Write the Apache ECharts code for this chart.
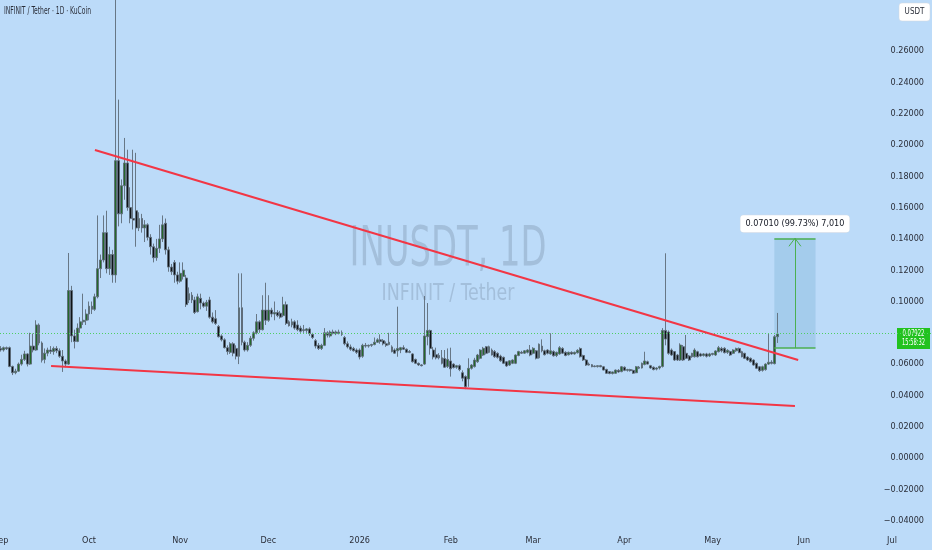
<!DOCTYPE html>
<html>
<head>
<meta charset="utf-8">
<script src="https://cdn.jsdelivr.net/npm/echarts@6/dist/echarts.min.js"></script>
<style>
html, body { margin: 0; padding: 0; background: #bcdbf9; }
#chart { width: 932px; height: 550px; }
</style>
</head>
<body>
<div id="chart"></div>
<script>
var myChart = echarts.init(document.getElementById('chart'));

var DAY = 86400000;
var startTime = Date.UTC(2025, 8, 1);   // 第一根K线 2025-09-01
var monthNames = ['Jan', 'Feb', 'Mar', 'Apr', 'May', 'Jun', 'Jul', 'Aug', 'Sep', 'Oct', 'Nov', 'Dec'];

// 日K 数据
var opens = [
	.0700,.0690,.0705,.0705,.0585,.0545,.0555,.0600,.0630,.0665,
	.0600,.0715,.0690,.0850,.0735,.0630,.0670,.0690,.0680,.0700,
	.0685,.0650,.0620,.0600,.1070,.0780,.0745,.0830,.0870,.0880,
	.0920,.0970,.0950,.1030,.1210,.1265,.1440,.1210,.1300,.1170,
	.1900,.1560,.1740,.1885,.1600,.1530,.1580,.1470,.1530,.1470,
	.1490,.1410,.1350,.1280,.1340,.1400,.1500,.1330,.1220,.1250,
	.1170,.1130,.1160,.1150,.1010,.1040,.1010,.0935,.1020,.0990,
	.0970,.1010,.0900,.0890,.0840,.0780,.0755,.0705,.0675,.0730,
	.0700,.0650,.0960,.0740,.0690,.0720,.0765,.0800,.0870,.0820,
	.0945,.0880,.0945,.0920,.0930,.0925,.0910,.0980,.0870,.0850,
	.0870,.0850,.0830,.0820,.0815,.0825,.0790,.0750,.0720,.0700,
	.0720,.0800,.0780,.0805,.0795,.0805,.0800,.0770,.0730,.0710,
	.0700,.0690,.0690,.0650,.0720,.0715,.0720,.0725,.0740,.0755,
	.0750,.0730,.0725,.0710,.0690,.0685,.0690,.0705,.0695,.0680,
	.0665,.0630,.0605,.0595,.0600,.0775,.0815,.0690,.0660,.0655,
	.0640,.0635,.0585,.0620,.0600,.0580,.0590,.0545,.0520,.0505,
	.0573,.0584,.0615,.0637,.0658,.0711,.0675,.0690,.0680,.0669,
	.0651,.0643,.0615,.0594,.0605,.0605,.0655,.0675,.0670,.0675,
	.0690,.0669,.0685,.0640,.0715,.0685,.0690,.0665,.0680,.0655,
	.0665,.0700,.0675,.0660,.0675,.0665,.0672,.0700,.0655,.0626,
	.0600,.0596,.0588,.0584,.0590,.0583,.0566,.0552,.0540,.0541,
	.0560,.0552,.0580,.0560,.0565,.0560,.0545,.0580,.0575,.0598,
	.0615,.0590,.0580,.0568,.0575,.0585,.0815,.0805,.0690,.0680,
	.0658,.0626,.0711,.0669,.0652,.0647,.0647,.0679,.0665,.0655,
	.0665,.0652,.0662,.0658,.0679,.0700,.0701,.0675,.0680,.0669,
	.0685,.0700,.0679,.0669,.0645,.0637,.0626,.0605,.0583,.0560,
	.0565,.0600,.0612,.0603,.0775
];
var highs = [
	.0715,.0712,.0712,.0712,.0590,.0570,.0610,.0660,.0685,.0670,
	.0800,.0795,.0880,.0860,.0745,.0700,.0705,.0715,.0712,.0715,
	.0700,.0690,.0630,.1310,.1100,.0820,.0860,.0900,.1050,.0950,
	.1000,.1000,.1050,.1550,.1300,.1550,.1580,.1350,.1330,.3000,
	.2290,.1780,.2045,.1970,.1730,.1970,.1950,.1570,.1560,.1520,
	.1500,.1430,.1370,.1400,.1490,.1550,.1530,.1350,.1240,.1265,
	.1190,.1250,.1250,.1170,.1090,.1060,.1030,.1050,.1050,.1000,
	.1010,.1030,.0930,.0945,.0850,.0790,.0765,.0720,.0740,.0740,
	.0720,.1180,.1180,.0750,.0740,.0780,.0810,.0920,.0880,.1040,
	.1120,.1040,.0960,.1000,.0945,.0940,.1030,.1000,.0880,.0890,
	.0880,.0880,.0845,.0850,.0830,.0835,.0800,.0760,.0735,.0730,
	.0830,.0810,.0815,.0820,.0815,.0820,.0815,.0780,.0745,.0725,
	.0710,.0700,.0700,.0730,.0735,.0725,.0730,.0770,.0765,.0790,
	.0760,.0745,.0800,.0720,.0700,.0967,.0710,.0720,.0700,.0690,
	.0670,.0635,.0610,.0600,.1035,.0990,.0820,.0710,.0705,.0670,
	.0690,.0690,.0700,.0705,.0605,.0595,.0598,.0560,.0528,.0637,
	.0600,.0640,.0665,.0695,.0710,.0715,.0718,.0700,.0690,.0675,
	.0660,.0648,.0620,.0625,.0630,.0662,.0685,.0685,.0690,.0695,
	.0722,.0708,.0690,.0732,.0758,.0692,.0695,.0797,.0688,.0680,
	.0715,.0708,.0682,.0680,.0682,.0680,.0695,.0707,.0660,.0632,
	.0610,.0600,.0592,.0592,.0595,.0588,.0570,.0556,.0552,.0565,
	.0568,.0588,.0585,.0570,.0570,.0565,.0588,.0588,.0610,.0679,
	.0622,.0595,.0585,.0580,.0590,.0830,.1308,.0815,.0700,.0682,
	.0665,.0733,.0722,.0786,.0658,.0672,.0701,.0685,.0672,.0670,
	.0672,.0672,.0672,.0688,.0716,.0710,.0708,.0695,.0686,.0695,
	.0705,.0706,.0685,.0672,.0650,.0642,.0630,.0610,.0588,.0590,
	.0605,.0797,.0625,.0786,.0927
];
var lows = [
	.0680,.0680,.0690,.0580,.0530,.0535,.0550,.0590,.0620,.0585,
	.0595,.0675,.0685,.0720,.0610,.0605,.0650,.0665,.0660,.0670,
	.0640,.0550,.0580,.0595,.0740,.0700,.0740,.0800,.0850,.0850,
	.0880,.0920,.0940,.1020,.1150,.1250,.1180,.1170,.1120,.1120,
	.1480,.1500,.1650,.1580,.1500,.1460,.1350,.1450,.1440,.1380,
	.1390,.1300,.1250,.1260,.1310,.1380,.1300,.1190,.1170,.1120,
	.1110,.1120,.1140,.0965,.0990,.0990,.0920,.0930,.0950,.0960,
	.0940,.0890,.0860,.0850,.0770,.0745,.0700,.0660,.0665,.0650,
	.0630,.0600,.0720,.0680,.0680,.0710,.0750,.0790,.0800,.0815,
	.0850,.0870,.0900,.0880,.0900,.0890,.0900,.0850,.0840,.0835,
	.0820,.0810,.0800,.0800,.0800,.0780,.0760,.0700,.0690,.0690,
	.0715,.0770,.0770,.0790,.0785,.0790,.0780,.0720,.0700,.0685,
	.0680,.0665,.0630,.0640,.0705,.0705,.0710,.0720,.0735,.0730,
	.0720,.0710,.0720,.0675,.0665,.0647,.0670,.0690,.0670,.0670,
	.0610,.0600,.0588,.0585,.0595,.0720,.0660,.0630,.0630,.0630,
	.0598,.0575,.0575,.0520,.0572,.0570,.0555,.0490,.0440,.0455,
	.0565,.0578,.0608,.0630,.0652,.0662,.0670,.0655,.0640,.0635,
	.0615,.0600,.0582,.0588,.0600,.0600,.0650,.0665,.0665,.0668,
	.0650,.0662,.0630,.0635,.0675,.0655,.0662,.0660,.0648,.0645,
	.0660,.0665,.0650,.0655,.0660,.0660,.0668,.0642,.0620,.0588,
	.0590,.0580,.0580,.0578,.0580,.0560,.0538,.0535,.0534,.0538,
	.0545,.0548,.0555,.0552,.0552,.0538,.0542,.0568,.0572,.0592,
	.0598,.0570,.0560,.0560,.0565,.0578,.0720,.0660,.0652,.0620,
	.0620,.0620,.0620,.0632,.0620,.0640,.0642,.0642,.0648,.0648,
	.0642,.0645,.0655,.0652,.0675,.0675,.0668,.0665,.0652,.0664,
	.0678,.0670,.0643,.0632,.0620,.0610,.0590,.0568,.0550,.0552,
	.0558,.0595,.0598,.0598,.0735
];
var closes = [
	.0690,.0705,.0698,.0585,.0545,.0555,.0600,.0630,.0665,.0600,
	.0715,.0690,.0850,.0735,.0625,.0670,.0690,.0680,.0700,.0685,
	.0650,.0620,.0600,.1070,.0780,.0745,.0830,.0870,.0880,.0920,
	.0970,.0950,.1030,.1210,.1265,.1440,.1210,.1300,.1170,.1900,
	.1560,.1740,.1885,.1600,.1530,.1520,.1470,.1530,.1470,.1490,
	.1410,.1350,.1280,.1340,.1400,.1490,.1330,.1220,.1190,.1170,
	.1130,.1180,.1200,.0980,.1050,.1010,.0930,.1030,.0990,.0970,
	.0995,.0900,.0870,.0860,.0775,.0755,.0705,.0680,.0730,.0670,
	.0650,.0960,.0740,.0690,.0720,.0765,.0800,.0870,.0820,.0945,
	.0880,.0945,.0920,.0930,.0910,.0900,.0980,.0860,.0845,.0870,
	.0830,.0820,.0810,.0815,.0825,.0795,.0770,.0715,.0700,.0720,
	.0800,.0785,.0805,.0795,.0805,.0795,.0790,.0730,.0710,.0695,
	.0685,.0675,.0645,.0720,.0715,.0720,.0725,.0740,.0755,.0745,
	.0730,.0720,.0740,.0680,.0670,.0700,.0705,.0695,.0675,.0675,
	.0615,.0605,.0595,.0590,.0780,.0815,.0700,.0645,.0640,.0640,
	.0605,.0580,.0630,.0570,.0578,.0590,.0565,.0510,.0455,.0573,
	.0594,.0626,.0658,.0690,.0701,.0669,.0711,.0658,.0647,.0643,
	.0621,.0605,.0588,.0621,.0626,.0658,.0680,.0670,.0685,.0690,
	.0658,.0701,.0637,.0727,.0685,.0660,.0669,.0685,.0653,.0675,
	.0705,.0670,.0655,.0675,.0665,.0675,.0688,.0647,.0626,.0594,
	.0594,.0583,.0584,.0590,.0583,.0562,.0541,.0540,.0550,.0562,
	.0550,.0583,.0560,.0565,.0558,.0542,.0583,.0574,.0605,.0620,
	.0600,.0575,.0565,.0575,.0585,.0815,.0760,.0669,.0658,.0626,
	.0626,.0722,.0626,.0637,.0626,.0669,.0690,.0647,.0652,.0665,
	.0650,.0665,.0668,.0684,.0705,.0685,.0673,.0688,.0658,.0690,
	.0700,.0673,.0647,.0637,.0626,.0615,.0594,.0573,.0558,.0583,
	.0600,.0612,.0605,.0775,.07922
];

var lastPrice = 0.07922;
var countdown = '15:58:32';

// 趋势线 [第几天, 价格]
var upperTrend = [[32, 0.1968], [271.1, 0.0626]];
var lowerTrend = [[17.1, 0.0588], [270, 0.0332]];

// 测量区间
var rangeDays = [263, 277, 270];
var rangePrices = [0.07029, 0.14039];
var rangeText = '0.07010 (99.73%) 7,010';

var titleText = 'INFINIT / Tether · 1D · KuCoin';
var watermark = ['INUSDT, 1D', 'INFINIT / Tether'];

function dayTime(d) {
	return startTime + d * DAY;
}

var candles = opens.map(function (o, i) {
	return [dayTime(i), o, closes[i], lows[i], highs[i]];
});

var font = "'Liberation Sans Narrow', 'DejaVu Sans Condensed', 'Roboto Condensed', sans-serif";
var red = '#f23645';
var green = '#4caf50';

function seg(a, b, color, width) {
	return [
		{ coord: [dayTime(a[0]), a[1]], lineStyle: { color: color, width: width, type: 'solid' } },
		{ coord: [dayTime(b[0]), b[1]] }
	];
}

myChart.setOption({
	backgroundColor: '#bcdbf9',
	useUTC: true,
	animation: false,
	grid: {
		left: 0,
		right: 0,
		top: -11.5,
		bottom: -1.9,
		outerBoundsMode: 'none'
	},
	xAxis: {
		type: 'time',
		min: dayTime(-0.27),
		max: dayTime(316.6),
		minInterval: 28 * DAY,
		maxInterval: 31 * DAY,
		axisLine: { show: false },
		axisTick: { show: false },
		splitLine: { show: false },
		axisLabel: {
			inside: true,
			margin: 7,
			color: '#2a2e39',
			fontSize: 9,
			fontFamily: font,
			hideOverlap: false,
			formatter: function (val) {
				var d = new Date(val);
				return d.getUTCMonth() === 0 ? String(d.getUTCFullYear()) : monthNames[d.getUTCMonth()];
			}
		}
	},
	yAxis: {
		type: 'value',
		position: 'right',
		min: -0.06,
		max: 0.30,
		interval: 0.02,
		axisLine: { show: false },
		axisTick: { show: false },
		splitLine: { show: false },
		axisLabel: {
			inside: true,
			margin: 8,
			color: '#2a2e39',
			fontSize: 9,
			fontFamily: font,
			formatter: function (v) {
				// 0.08 被价格标签挡住, 0.28 被 USDT 标签挡住, -0.06 在画面外
				if (Math.abs(v - 0.08) < 1e-9 || v > 0.27 || v < -0.05) return '';
				var s = Math.abs(v).toFixed(5);
				return v < -1e-9 ? '\u2212' + s : s;
			}
		}
	},
	series: [{
		name: 'INUSDT',
		type: 'candlestick',
		data: candles,
		encode: { x: 0, y: [1, 2, 3, 4] },
		barWidth: 2.4,
		itemStyle: {
			color: '#23692a',
			color0: '#0f1418',
			borderColor: '#5e6b78',
			borderColor0: '#5e6b78',
			borderWidth: 0.9
		},
		markArea: {
			silent: true,
			itemStyle: { color: 'rgba(110,168,205,0.3)' },
			label: {
				show: true,
				position: 'top',
				distance: 6,
				formatter: rangeText,
				backgroundColor: '#ffffff',
				borderColor: '#d4dbe3',
				borderWidth: 0.5,
				borderRadius: 3,
				padding: [4, 5],
				color: '#131722',
				fontSize: 9,
				fontFamily: font
			},
			data: [[
				{ coord: [dayTime(rangeDays[0]), rangePrices[0]] },
				{ coord: [dayTime(rangeDays[1]), rangePrices[1]] }
			]]
		},
		markLine: {
			silent: true,
			symbol: ['none', 'none'],
			label: { show: false },
			data: [
				{ yAxis: lastPrice, lineStyle: { color: '#4fcf63', width: 1, type: [1, 2] } },
				seg(upperTrend[0], upperTrend[1], red, 2),
				seg(lowerTrend[0], lowerTrend[1], red, 2),
				seg([rangeDays[0], rangePrices[1]], [rangeDays[1], rangePrices[1]], green, 1.5),
				seg([rangeDays[0], rangePrices[0]], [rangeDays[1], rangePrices[0]], green, 1.5),
				seg([rangeDays[2], rangePrices[0]], [rangeDays[2], rangePrices[1]], green, 1)
			]
		}
	}]
});

// 文字宽度压缩 (仿照原图的窄字体)
var ctx = document.createElement('canvas').getContext('2d');
function fitScale(text, cssFont, target) {
	ctx.font = cssFont;
	return target / ctx.measureText(text).width;
}

var wm1Font = '56px ' + font;
var wm2Font = '23px ' + font;
var titleFont = '500 10px ' + font;
var tagFont = '9px ' + font;

var priceY = myChart.convertToPixel({ yAxisIndex: 0 }, lastPrice);
var arrowTop = myChart.convertToPixel({ xAxisIndex: 0, yAxisIndex: 0 }, [dayTime(rangeDays[2]), rangePrices[1]]);

myChart.setOption({
	graphic: [
		{
			type: 'text', x: 448, y: 250, silent: true, z: 0,
			scaleX: fitScale(watermark[0], wm1Font, 197),
			style: { text: watermark[0], font: wm1Font, fill: 'rgba(105,125,150,0.3)', align: 'center', verticalAlign: 'middle' }
		},
		{
			type: 'text', x: 448, y: 294, silent: true, z: 0,
			scaleX: fitScale(watermark[1], wm2Font, 133),
			style: { text: watermark[1], font: wm2Font, fill: 'rgba(105,125,150,0.3)', align: 'center', verticalAlign: 'middle' }
		},
		{
			type: 'text', x: 4, y: 11, silent: true,
			scaleX: fitScale(titleText, titleFont, 87),
			style: { text: titleText, font: titleFont, fill: '#2a2e39', align: 'left', verticalAlign: 'middle' }
		},
		{
			type: 'polyline', silent: true, z: 10,
			shape: { points: [[arrowTop[0] - 6, arrowTop[1] + 8], [arrowTop[0], arrowTop[1]], [arrowTop[0] + 6, arrowTop[1] + 8]] },
			style: { stroke: green, lineWidth: 1, fill: null }
		},
		{
			type: 'group', x: 897, y: priceY - 6, z: 20,
			children: [
				{ type: 'rect', shape: { x: 0, y: 0, width: 33, height: 21 }, style: { fill: '#22c21f' } },
				{
					type: 'text', x: 16.5, y: 6, scaleX: fitScale('0.07922', tagFont, 22),
					style: { text: lastPrice.toFixed(5), font: tagFont, fill: '#ffffff', align: 'center', verticalAlign: 'middle' }
				},
				{
					type: 'text', x: 16.5, y: 15, scaleX: fitScale(countdown, tagFont, 23),
					style: { text: countdown, font: tagFont, fill: '#ffffff', align: 'center', verticalAlign: 'middle' }
				}
			]
		},
		{
			type: 'group', x: 899, y: 3, z: 20,
			children: [
				{ type: 'rect', shape: { x: 0, y: 0, width: 31, height: 18, r: 3 }, style: { fill: '#ffffff', stroke: '#d0d7df', lineWidth: 0.5 } },
				{ type: 'text', x: 15.5, y: 9, style: { text: 'USDT', font: '8px ' + font, fill: '#2a2e39', align: 'center', verticalAlign: 'middle' } }
			]
		}
	]
});

window.addEventListener('resize', function () {
	myChart.resize();
});
</script>
</body>
</html>
